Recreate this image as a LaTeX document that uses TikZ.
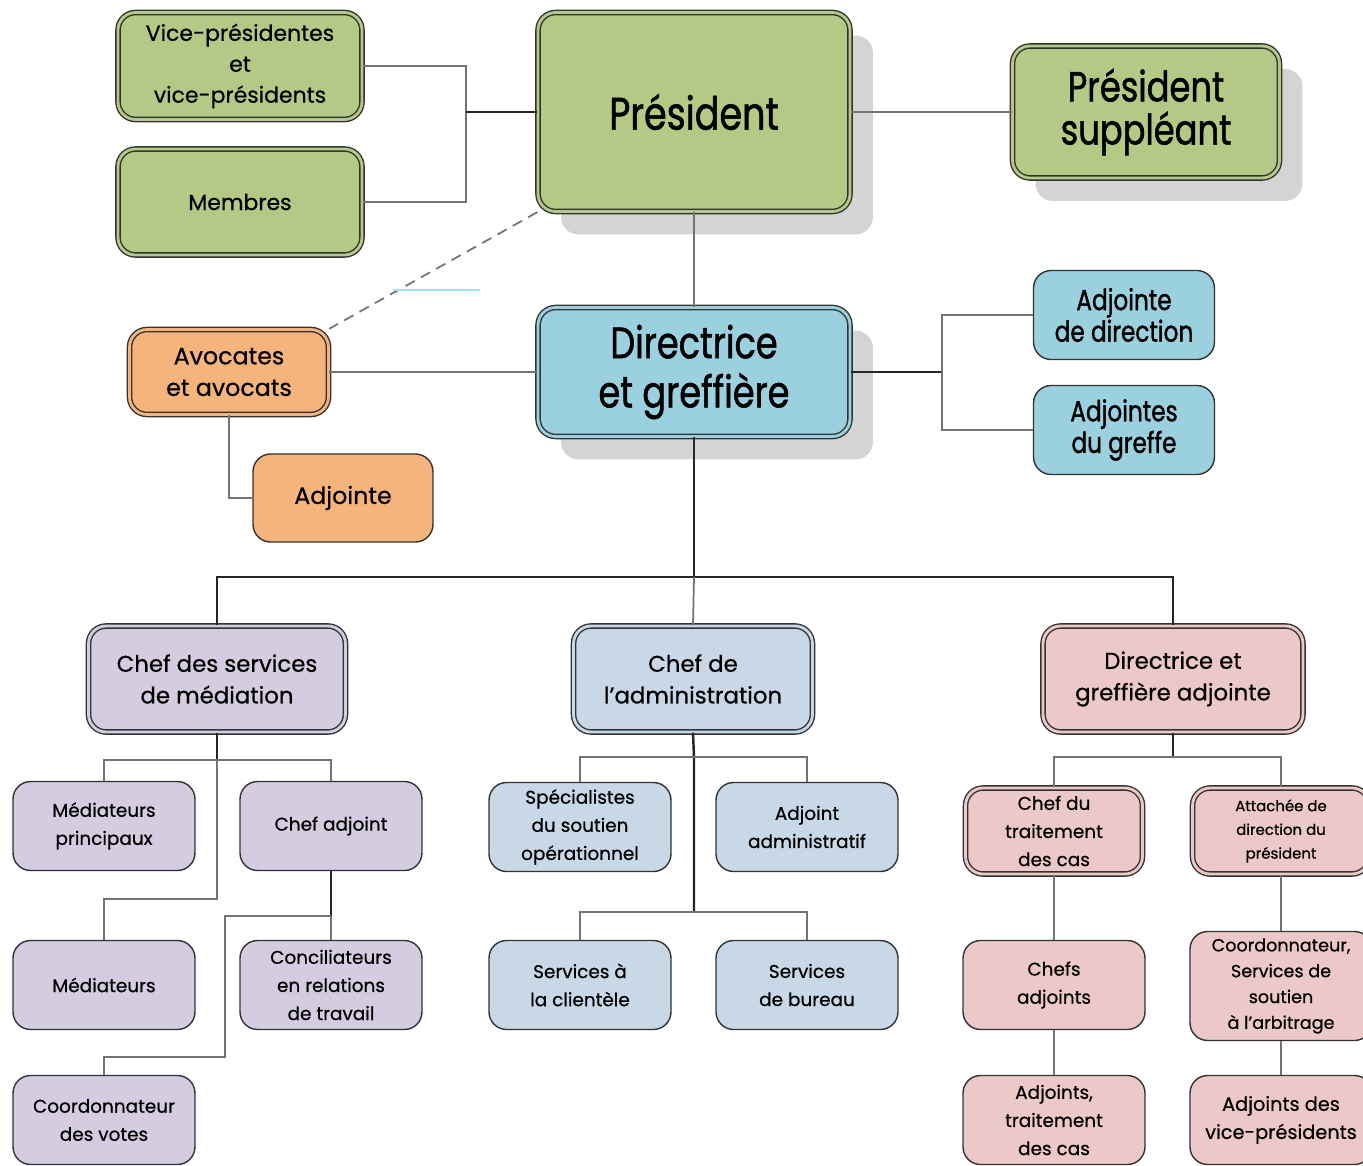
\documentclass[tikz,border=0pt]{standalone}
\usepackage{fontspec}
\setmainfont{Poppins}[FakeBold=0.6]
\newfontfamily\condfont{Poppins}[FakeStretch=0.8, FakeBold=1.2]
\usepackage{xcolor}
\usepackage{tikz}
\usetikzlibrary{shadows}

\definecolor{vert}{RGB}{181,201,134}
\definecolor{bleu}{RGB}{155,208,223}
\definecolor{orange}{RGB}{246,180,125}
\definecolor{lavande}{RGB}{212,204,224}
\definecolor{acier}{RGB}{201,216,231}
\definecolor{rose}{RGB}{236,201,200}

\begin{document}
\begin{tikzpicture}[
    x=0.02cm, y=-0.02cm,
    box/.style={rectangle, draw=black!80, line width=0.8pt, rounded corners=10pt, align=center, inner sep=1pt},
    dbl/.style={double=#1, double distance=1.6pt, fill=#1},
    ombre/.style={drop shadow={shadow xshift=0.46cm, shadow yshift=-0.46cm, fill=black!17, opacity=1}},
    petit/.style={box, minimum width=3.64cm, minimum height=1.78cm, font=\fontsize{10.5}{16}\selectfont},
    link/.style={draw=black!55, line width=1pt},
    stem/.style={draw=black!85, line width=1.4pt}
]
\useasboundingbox (0,0) rectangle (1363,1166);

% haut
\node[box, dbl=vert, minimum width=6.24cm, minimum height=3.98cm, ombre, font=\condfont\fontsize{26}{30}\selectfont] (president) at (694,112) {Président};
\node[box, dbl=vert, minimum width=5.34cm, minimum height=2.64cm, ombre, font=\condfont\fontsize{24}{24.5}\selectfont] (suppleant) at (1146,112) {Président\\suppléant};
\node[box, dbl=vert, minimum width=4.88cm, minimum height=2.14cm, font=\fontsize{12.5}{17.6}\selectfont] (vicepres) at (240,66) {Vice-présidentes\\et\\vice-présidents};
\node[box, dbl=vert, minimum width=4.88cm, minimum height=2.12cm, font=\fontsize{12.5}{17.6}\selectfont] (membres) at (240,202) {Membres};

% milieu
\node[box, dbl=bleu, minimum width=6.24cm, minimum height=2.58cm, ombre, font=\condfont\fontsize{25}{28}\selectfont] (directrice) at (694,372) {Directrice\\et greffière};
\node[box, fill=bleu, minimum width=3.62cm, minimum height=1.78cm, font=\condfont\fontsize{16.5}{18}\selectfont] (adjdir) at (1124,315) {Adjointe\\de direction};
\node[box, fill=bleu, minimum width=3.62cm, minimum height=1.78cm, font=\condfont\fontsize{16.5}{18}\selectfont] (adjgreffe) at (1124,430) {Adjointes\\du greffe};
\node[box, dbl=orange, minimum width=3.98cm, minimum height=1.70cm, font=\fontsize{13.5}{18}\selectfont] (avocats) at (229,372) {Avocates\\et avocats};
\node[box, fill=orange, minimum width=3.6cm, minimum height=1.76cm, font=\fontsize{13.5}{18}\selectfont] (adjointe) at (343,498) {Adjointe};

% directions
\node[box, dbl=lavande, minimum width=5.14cm, minimum height=2.12cm, font=\fontsize{13}{18}\selectfont] (mediation) at (217,679) {Chef des services\\de médiation};
\node[box, dbl=acier, minimum width=4.78cm, minimum height=2.12cm, font=\fontsize{13}{18}\selectfont] (admin) at (693,679) {Chef de\\l'administration};
\node[box, dbl=rose, minimum width=5.2cm, minimum height=2.12cm, font=\fontsize{13}{18}\selectfont] (dga) at (1173,679) {Directrice et\\greffière adjointe};

% mediation
\node[petit, fill=lavande] (medprinc) at (104,826) {Médiateurs\\principaux};
\node[petit, fill=lavande] (chefadj) at (331,826) {Chef adjoint};
\node[petit, fill=lavande] (mediateurs) at (104,985) {Médiateurs};
\node[petit, fill=lavande] (concil) at (331,985) {Conciliateurs\\en relations\\de travail};
\node[petit, fill=lavande] (coordvotes) at (104,1120) {Coordonnateur\\des votes};

% administration
\node[petit, fill=acier] (specialistes) at (580,827) {Spécialistes\\du soutien\\opérationnel};
\node[petit, fill=acier] (adjadmin) at (807,827) {Adjoint\\administratif};
\node[petit, fill=acier] (servclient) at (580,985) {Services à\\la clientèle};
\node[petit, fill=acier] (servbureau) at (807,985) {Services\\de bureau};

% greffe adjointe
\node[petit, dbl=rose, minimum width=3.54cm, minimum height=1.72cm] (cheftrait) at (1054,831) {Chef du\\traitement\\des cas};
\node[petit, dbl=rose, minimum width=3.54cm, minimum height=1.72cm, font=\fontsize{8.5}{13.5}\selectfont] (attachee) at (1281,831) {Attachée de\\direction du\\président};
\node[petit, fill=rose] (chefsadj) at (1054,985) {Chefs\\adjoints};
\node[petit, fill=rose, minimum height=2.18cm, font=\fontsize{10}{14.7}\selectfont] (coordarb) at (1281,986) {Coordonnateur,\\Services de\\soutien\\à l'arbitrage};
\node[petit, fill=rose] (adjtrait) at (1054,1120) {Adjoints,\\traitement\\des cas};
\node[petit, fill=rose, font=\fontsize{11}{16}\selectfont] (adjvp) at (1281,1120) {Adjoints des\\vice-présidents};

% liens du haut
\coordinate (jvp) at (466,112);
\draw[link] (vicepres.east) -| (jvp) |- (membres.east);
\draw[stem] (jvp) -- (president.west);
\draw[link] (president.east) -- (suppleant.west);
\draw[link] (president.south) -- (directrice.north);
\draw[link, dash pattern=on 6pt off 4pt] (president.south west) -- (avocats.north east);
\coordinate (trait1) at (393,290);
\coordinate (trait2) at (480,290);
\draw[cyan!35, line width=0.8pt] (trait1) -- (trait2);
\draw[link] (avocats.east) -- (directrice.west);
\draw[link] (avocats.south) |- (adjointe.west);
\coordinate (jdir) at (942,372);
\draw[stem] (directrice.east) -- (jdir);
\draw[link] (adjdir.west) -| (jdir) |- (adjgreffe.west);

% vers les directions
\coordinate (jbas) at (694,577);
\draw[stem] (directrice.south) -- (jbas);
\draw[stem] (mediation.north) |- (jbas) -| (dga.north);
\draw[link] (jbas) -- (admin.north);

% mediation
\coordinate (jmed) at (217,760);
\coordinate (jmed2) at (217,899);
\draw[stem] (mediation.south) -- (jmed);
\draw[link] (medprinc.north) |- (jmed) -| (chefadj.north);
\draw[link] (jmed) -- (jmed2) -| (mediateurs.north);
\coordinate (jca) at (331,916);
\coordinate (jca2) at (225,916);
\coordinate (jca3) at (225,1057);
\draw[stem] (chefadj.south) -- (jca);
\draw[link] (jca) -- (concil.north);
\draw[link] (jca) -- (jca2) -- (jca3) -| (coordvotes.north);

% administration
\coordinate (jadm) at (694,757);
\coordinate (jadm2) at (694,912);
\draw[stem] (admin.south) -- (jadm) -- (jadm2);
\draw[link] (specialistes.north) |- (jadm) -| (adjadmin.north);
\draw[link] (servclient.north) |- (jadm2) -| (servbureau.north);

% greffe adjointe
\coordinate (jdga) at (1173,757);
\draw[stem] (dga.south) -- (jdga);
\draw[link] (cheftrait.north) |- (jdga) -| (attachee.north);
\draw[link] (cheftrait) -- (chefsadj) -- (adjtrait);
\draw[link] (attachee) -- (coordarb) -- (adjvp);

\end{tikzpicture}
\end{document}
